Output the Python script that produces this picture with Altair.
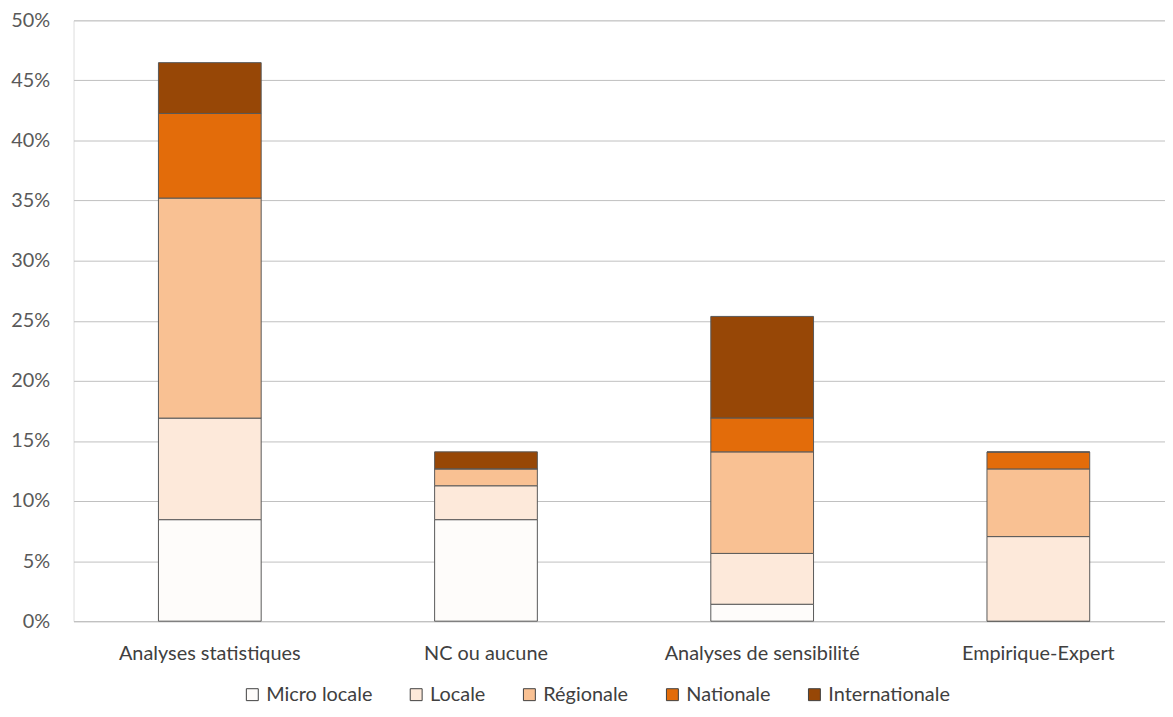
import altair as alt
import pandas as pd

categories = ["Analyses statistiques", "NC ou aucune", "Analyses de sensibilité", "Empirique-Expert"]
series = ["Micro locale", "Locale", "Régionale", "Nationale", "Internationale"]
colors = ["#FEFCFA", "#FDE9DA", "#F9C193", "#E36C0A", "#974706"]

micro_locale = [8.45, 8.45, 1.41, 0.0]
locale = [8.45, 2.82, 4.23, 7.04]
regionale = [18.31, 1.41, 8.45, 5.63]
nationale = [7.04, 0.0, 2.82, 1.41]
internationale = [4.23, 1.41, 8.45, 0.0]

vals = [micro_locale, locale, regionale, nationale, internationale]
rows = []
for si, s in enumerate(series):
    for ci, c in enumerate(categories):
        rows.append({"cat": c, "serie": s, "val": vals[si][ci] / 100.0, "ord": si})
df = pd.DataFrame(rows)

FONT = "Lato"
FS = 20

chart = alt.Chart(df).mark_bar(stroke="#595959", strokeWidth=1).encode(
    x=alt.X("cat:N", sort=categories, title=None,
            scale=alt.Scale(paddingInner=0.628, paddingOuter=0.29, align=0.53),
            axis=alt.Axis(labelAngle=0, labelFont=FONT, labelFontSize=FS, labelColor="#404040",
                          domainColor="#BFBFBF", ticks=False, labelPadding=23, labelLimit=0)),
    y=alt.Y("val:Q", stack="zero", title=None,
            scale=alt.Scale(domain=[0, 0.5]),
            axis=alt.Axis(format=".0%", values=[i * 0.05 for i in range(11)],
                          labelFont=FONT, labelFontSize=FS, labelColor="#595959",
                          domain=False, ticks=False, gridColor="#BFBFBF", labelPadding=24)),
    color=alt.Color("serie:N", sort=series,
                    scale=alt.Scale(domain=series, range=colors),
                    legend=alt.Legend(title=None, orient="none", direction="horizontal",
                                      legendX=170, legendY=669, columns=5, columnPadding=34,
                                      symbolType="square", symbolSize=144,
                                      symbolStrokeColor="#404040", symbolStrokeWidth=1,
                                      labelFont=FONT, labelFontSize=FS, labelColor="#404040",
                                      labelOffset=4, labelLimit=0)),
    order=alt.Order("ord:Q", sort="ascending"),
).properties(
    width=1099, height=605,
    autosize=alt.AutoSizeParams(type="none"),
    padding={"left": 66, "top": 10, "right": 0, "bottom": 86},
).configure_view(stroke=None).configure(background="white")

chart.save("out.html", embed_options={"renderer": "svg", "actions": False})
